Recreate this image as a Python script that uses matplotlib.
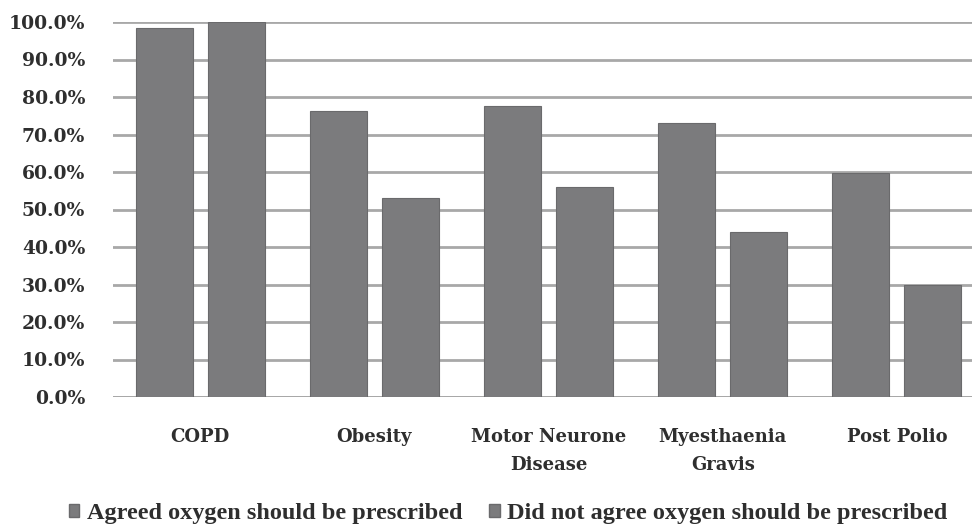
import numpy as np
import matplotlib
matplotlib.use("Agg")
import matplotlib.pyplot as plt
from matplotlib.patches import Patch

# survey results per condition
conditions = ["COPD", "Obesity", "Motor Neurone\nDisease", "Myesthaenia\nGravis", "Post Polio"]
agreed = [98.5, 76.3, 77.6, 73.0, 59.8]
not_agreed = [100.0, 53.2, 55.9, 44.1, 29.9]
series_names = ["Agreed oxygen should be prescribed",
                "Did not agree oxygen should be prescribed"]

bar_color = "#7b7b7d"
edge_color = "#6a6a6c"
grid_color = "#a8a8a8"
text_color = "#2e2e2e"

fig = plt.figure(figsize=(9.72, 5.28), dpi=100)
ax = fig.add_axes([113 / 972, 1 - 397 / 528, 871 / 972, 375 / 528])

x = np.arange(len(conditions))
w = 0.327
off = 0.207
ax.bar(x - off, agreed, w, color=bar_color, edgecolor=edge_color, linewidth=0.8, zorder=3)
ax.bar(x + off, not_agreed, w, color=bar_color, edgecolor=edge_color, linewidth=0.8, zorder=3)

ax.set_ylim(0, 100)
ax.set_xlim(-0.5, 4.5)
ax.set_yticks(np.arange(0, 101, 10))
ax.set_yticklabels(["{:.1f}%".format(v) for v in np.arange(0, 101, 10)],
                   family="DejaVu Serif", fontsize=13.5, weight="bold", color=text_color)
ax.set_xticks(x)
ax.set_xticklabels(conditions, family="DejaVu Serif", fontsize=13, weight="bold",
                   color=text_color, linespacing=1.75)
ax.tick_params(axis="both", length=0)
ax.tick_params(axis="y", pad=20)
ax.tick_params(axis="x", pad=22)
ax.yaxis.grid(True, color=grid_color, linewidth=2, zorder=0)
for s in ax.spines.values():
    s.set_visible(False)
ax.axhline(0, color=grid_color, linewidth=2, zorder=2)

handles = [Patch(facecolor=bar_color, edgecolor=edge_color) for _ in series_names]
fig.legend(handles, series_names, loc="center", bbox_to_anchor=(508 / 972, 1 - 514 / 528),
           ncol=2, frameon=False, handlelength=0.45, handleheight=0.45, handletextpad=0.3,
           columnspacing=1.1, prop={"family": "Liberation Serif", "size": 17.5, "weight": "bold"},
           labelcolor=text_color)

fig.savefig("out.png", dpi=100)
